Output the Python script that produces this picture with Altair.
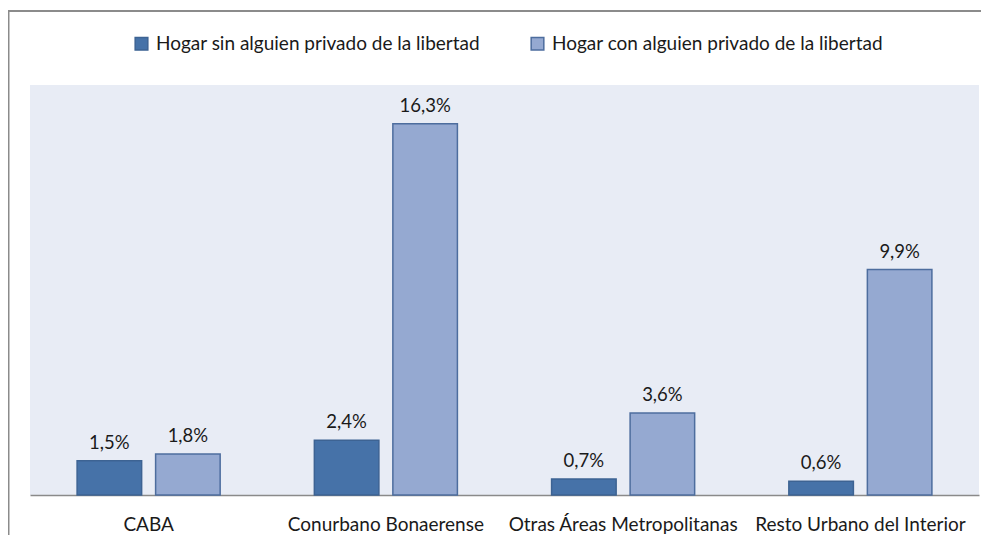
import altair as alt
import pandas as pd

categories = ["CABA", "Conurbano Bonaerense", "Otras Áreas Metropolitanas", "Resto Urbano del Interior"]
series = ["Hogar sin alguien privado de la libertad", "Hogar con alguien privado de la libertad"]
sin_values = [1.5, 2.4, 0.7, 0.6]
con_values = [1.8, 16.3, 3.6, 9.9]

fill_colors = ["#4672A8", "#95A9D1"]
stroke_colors = ["#3D6393", "#4D6D9E"]

rows = []
for cat, a, b in zip(categories, sin_values, con_values):
    for s, v in ((series[0], a), (series[1], b)):
        rows.append({"region": cat, "serie": s, "valor": v,
                     "etiqueta": f"{v:.1f}%".replace(".", ",")})
df = pd.DataFrame(rows)

FONT = "Lato"
TXT = "#1a1a1a"
FS = 19
W, H = 949, 410
PAD = {"left": 22, "top": 77, "right": 2, "bottom": 40}

x_enc = alt.X("region:N", sort=categories, title=None,
              scale=alt.Scale(paddingInner=0.397, paddingOuter=0.1985),
              axis=alt.Axis(labelAngle=0, ticks=False, domain=True, domainColor="#8a8a8a",
                            domainWidth=1.5, labelFont=FONT, labelFontSize=FS, labelColor=TXT,
                            labelPadding=20, labelLimit=0, grid=False))
xoff = alt.XOffset("serie:N", sort=series, scale=alt.Scale(paddingInner=0.178, paddingOuter=0))
y_enc = alt.Y("valor:Q", axis=None, scale=alt.Scale(domain=[0, 18]))

legend = alt.Legend(title=None, orient="none", legendX=102, legendY=-51, direction="horizontal",
                    symbolType="square", symbolSize=160, symbolStrokeWidth=1.5,
                    labelFont=FONT, labelFontSize=FS, labelColor=TXT, labelOffset=5,
                    labelLimit=0, columnPadding=47)

bars = alt.Chart(df).mark_bar(strokeWidth=1.5).encode(
    x=x_enc, xOffset=xoff, y=y_enc,
    fill=alt.Fill("serie:N", sort=series, scale=alt.Scale(domain=series, range=fill_colors), legend=legend),
    stroke=alt.Stroke("serie:N", sort=series, scale=alt.Scale(domain=series, range=stroke_colors), legend=legend),
)

labels = alt.Chart(df).mark_text(font=FONT, fontSize=18.5, color=TXT, baseline="alphabetic", dy=-12).encode(
    x=x_enc, xOffset=xoff, y=y_enc, text="etiqueta:N"
)

frame = pd.DataFrame({"k": [0]})
border_top = alt.Chart(frame).mark_rule(stroke="#8b8b8b", strokeWidth=2).encode(
    x=alt.value(-22.5), x2=alt.value(W + PAD["right"]), y=alt.value(-74)
)
border_left = alt.Chart(frame).mark_rule(stroke="#8b8b8b", strokeWidth=2).encode(
    x=alt.value(-21.5), y=alt.value(-75), y2=alt.value(H + PAD["bottom"])
)

chart = alt.layer(border_top, border_left, bars, labels).properties(
    width=W, height=H,
    padding=PAD,
    autosize=alt.AutoSizeParams(type="none"),
    background="white",
).configure_view(fill="#E8ECF5", strokeWidth=0)

chart.save("out.html", embed_options={"renderer": "svg", "actions": False})
